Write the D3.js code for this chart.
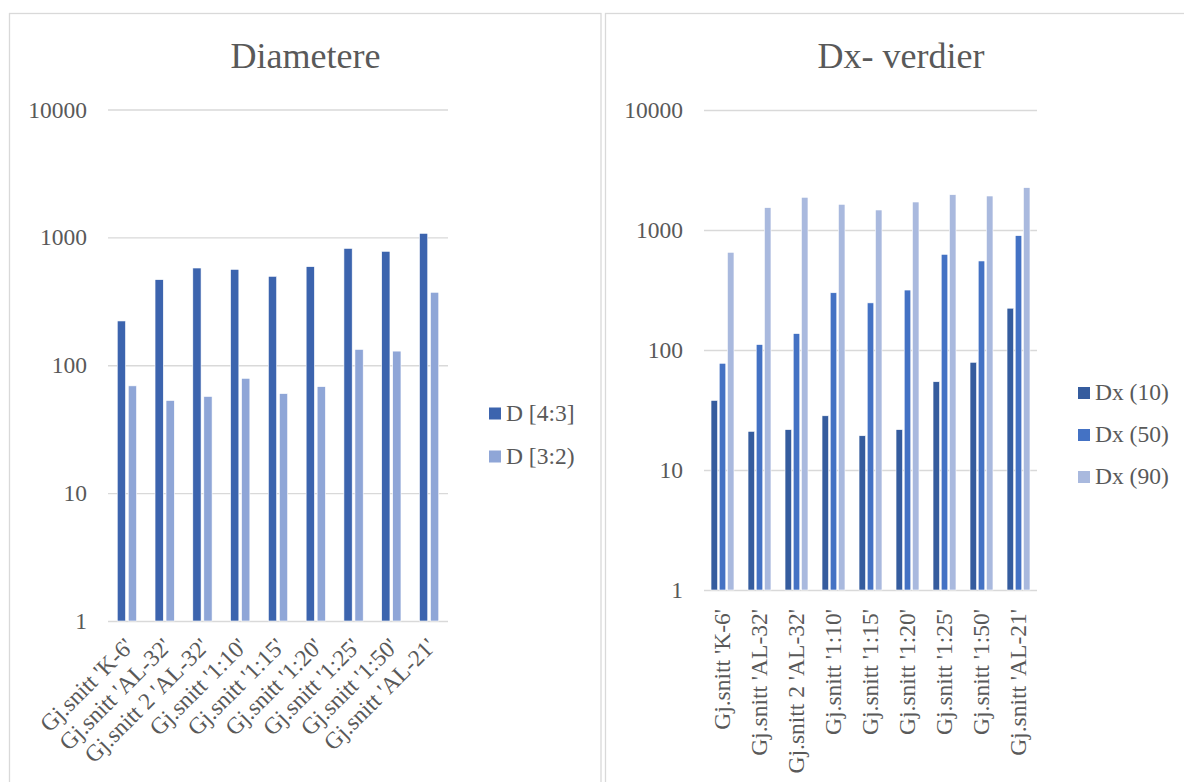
<!DOCTYPE html>
<html>
<head>
<meta charset="utf-8">
<script src="https://cdn.jsdelivr.net/npm/d3@7"></script>
<style>
  html, body { margin: 0; padding: 0; background: #fff; }
  svg { display: block; }
  text { font-family: "Liberation Serif", "Times New Roman", serif; fill: #595959; }
</style>
</head>
<body>
<svg id="chart" width="1184" height="782"></svg>
<script>
// ---------- data ----------
const categories = [
  "Gj.snitt 'K-6'", "Gj.snitt 'AL-32'", "Gj.snitt 2 'AL-32'", "Gj.snitt '1:10'",
  "Gj.snitt '1:15'", "Gj.snitt '1:20'", "Gj.snitt '1:25'", "Gj.snitt '1:50'", "Gj.snitt 'AL-21'"
];
const yTicks = [1, 10, 100, 1000, 10000];

const leftTitle = "Diametere";
const leftSeriesNames = ["D [4:3]", "D [3:2)"];
const d43 = [222, 467, 576, 562, 496, 590, 820, 778, 1075];
const d32 = [69, 53, 57, 79, 60, 68, 133, 129, 372];

const rightTitle = "Dx- verdier";
const rightSeriesNames = ["Dx (10)", "Dx (50)", "Dx (90)"];
const dx10 = [38, 21, 21.7, 28.3, 19.3, 21.7, 54.4, 79, 223];
const dx50 = [77.5, 111, 137, 300, 247, 316, 627, 552, 897];
const dx90 = [652, 1535, 1873, 1637, 1468, 1711, 1968, 1920, 2252];

const leftColors = ["#3C64AE", "#8FA6D7"];
const rightColors = ["#355C9E", "#4472C4", "#A9B9DE"];

// ---------- drawing ----------
const svg = d3.select("#chart");
const FS = 23.5;

// panel borders
svg.append("rect").attr("x", 9.5).attr("y", 13.5).attr("width", 591.5).attr("height", 800)
  .attr("fill", "none").attr("stroke", "#D9D9D9").attr("stroke-width", 1.3);
svg.append("rect").attr("x", 605.5).attr("y", 13.5).attr("width", 600).attr("height", 800)
  .attr("fill", "none").attr("stroke", "#D9D9D9").attr("stroke-width", 1.3);

function drawChart(cfg) {
  const g = svg.append("g");
  const y = d3.scaleLog().domain([1, 10000]).range([cfg.bottom, cfg.top]);
  const x0 = d3.scaleBand().domain(categories).range([cfg.left, cfg.right])
    .paddingInner(cfg.groupPad).paddingOuter(cfg.groupPad / 2);
  const x1 = d3.scaleBand().domain(d3.range(cfg.series.length))
    .range([0, x0.bandwidth()]).paddingInner(cfg.barPad);

  // title
  g.append("text").attr("x", cfg.titleX).attr("y", 68).attr("text-anchor", "middle")
    .style("font-size", "36px").text(cfg.title);

  // y axis with gridlines
  const yAxis = d3.axisLeft(y).tickValues(yTicks).tickFormat(d3.format("d"))
    .tickSize(-(cfg.right - cfg.left)).tickPadding(21);
  const ya = g.append("g").attr("transform", `translate(${cfg.left},0)`).call(yAxis);
  ya.select(".domain").remove();
  ya.selectAll(".tick line").attr("stroke", "#D9D9D9").attr("stroke-width", 1.3);
  ya.selectAll(".tick text").style("font-size", FS + "px").attr("fill", "#595959")
    .style("font-family", '"Liberation Serif", serif');

  // bars
  cfg.series.forEach((vals, si) => {
    g.append("g").selectAll("rect").data(vals).join("rect")
      .attr("x", (d, i) => x0(categories[i]) + x1(si))
      .attr("width", x1.bandwidth())
      .attr("y", d => y(d))
      .attr("height", d => y(1) - y(d))
      .attr("fill", cfg.colors[si])
      .attr("stroke", "#ffffff").attr("stroke-width", 0.6);
  });

  // x axis labels
  const xAxis = d3.axisBottom(x0).tickSize(0).tickPadding(0);
  const xa = g.append("g").attr("transform", `translate(0,${cfg.bottom})`).call(xAxis);
  xa.select(".domain").remove();
  xa.selectAll(".tick text").style("font-size", FS + "px").attr("fill", "#595959")
    .style("font-family", '"Liberation Serif", serif')
    .attr("text-anchor", "end").attr("y", 0).attr("x", 0)
    .attr("dy", cfg.labelDy)
    .attr("transform", `translate(${cfg.labelDx},${cfg.labelOffset}) rotate(${cfg.labelRot})`);

  // legend
  const lg = g.append("g");
  cfg.seriesNames.forEach((n, i) => {
    const yy = cfg.legendY + i * cfg.legendStep;
    lg.append("rect").attr("x", cfg.legendX).attr("y", yy).attr("width", 12).attr("height", 12)
      .attr("fill", cfg.colors[i]);
    lg.append("text").attr("x", cfg.legendX + 17).attr("y", yy + 13)
      .style("font-size", FS + "px").text(n);
  });
}

drawChart({
  title: leftTitle, titleX: 305.5,
  left: 108, right: 448, top: 109.5, bottom: 621,
  series: [d43, d32], seriesNames: leftSeriesNames, colors: leftColors,
  groupPad: 0.49, barPad: 0.25,
  labelRot: -45, labelDy: "0.66em", labelDx: -3, labelOffset: 16,
  legendX: 489, legendY: 407.5, legendStep: 43
});

drawChart({
  title: rightTitle, titleX: 901,
  left: 704, right: 1037, top: 110, bottom: 590,
  series: [dx10, dx50, dx90], seriesNames: rightSeriesNames, colors: rightColors,
  groupPad: 0.38, barPad: 0.2,
  labelRot: -90, labelDy: "0.32em", labelDx: 0, labelOffset: 19,
  legendX: 1078, legendY: 387, legendStep: 42
});
</script>
</body>
</html>
